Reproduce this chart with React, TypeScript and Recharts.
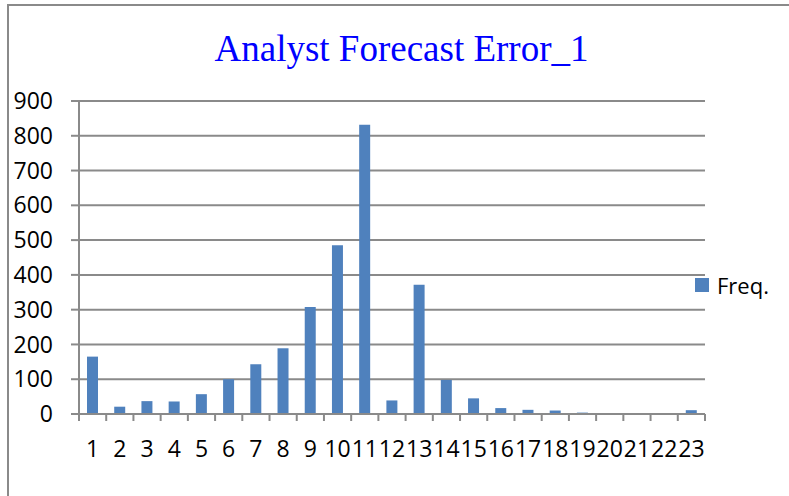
import { BarChart, Bar, XAxis, YAxis, CartesianGrid } from "recharts";

const bins = [
  "1", "2", "3", "4", "5", "6", "7", "8", "9", "10", "11", "12",
  "13", "14", "15", "16", "17", "18", "19", "20", "21", "22", "23",
];
const freq = [
  165, 21, 37, 36, 57, 100, 143, 189, 308, 485, 832, 39,
  372, 98, 45, 17, 12, 10, 4, 0, 1, 0, 11,
];
const yTicks = [0, 100, 200, 300, 400, 500, 600, 700, 800, 900];
const seriesName = "Freq.";

const data = bins.map((bin, i) => ({ bin, freq: freq[i] }));

const GRID = "#8a8a8a";
const BLUE = "#4f81bd";
const FONT = "'Open Sans', sans-serif";
const CAT_W = 626 / bins.length;

// x ticks sit on category boundaries, like Excel
const BinTick = (props: any) => {
  const { x, y, payload, index } = props;
  const last = index === bins.length - 1;
  return (
    <g>
      <line x1={x - CAT_W / 2} x2={x - CAT_W / 2} y1={y} y2={y + 7} stroke={GRID} strokeWidth={2} />
      {last && (
        <line x1={x + CAT_W / 2} x2={x + CAT_W / 2} y1={y} y2={y + 7} stroke={GRID} strokeWidth={2} />
      )}
      <text x={x} y={y + 43} textAnchor="middle" fill="#000" fontSize={23} fontFamily={FONT}>
        {payload.value}
      </text>
    </g>
  );
};

export default function App() {
  return (
    <div style={{ position: "absolute", left: 0, top: 0, width: 789, height: 496, background: "#fff" }}>
      <div
        style={{
          position: "absolute",
          left: 7,
          top: 4,
          width: 782,
          height: 492,
          borderTop: "2px solid #8a8a8a",
          borderLeft: "2px solid #8a8a8a",
        }}
      />
      <div
        style={{
          position: "absolute",
          left: 0,
          top: 30,
          width: 803,
          textAlign: "center",
          fontFamily: "'Liberation Serif', serif",
          fontSize: 37,
          lineHeight: "37px",
          color: "#0000ff",
        }}
      >
        Analyst Forecast Error_1
      </div>
      <div style={{ position: "absolute", left: 0, top: 0 }}>
        <BarChart
          width={789}
          height={496}
          data={data}
          margin={{ top: 101, right: 84, left: 0, bottom: 32 }}
        >
          <CartesianGrid vertical={false} stroke={GRID} strokeWidth={2} />
          <XAxis
            dataKey="bin"
            interval={0}
            height={50}
            tickSize={0}
            tickMargin={0}
            axisLine={{ stroke: GRID, strokeWidth: 2 }}
            tickLine={false}
            tick={<BinTick />}
          />
          <YAxis
            width={79}
            domain={[0, 900]}
            ticks={yTicks}
            interval={0}
            tickSize={8}
            tickMargin={18}
            axisLine={{ stroke: GRID, strokeWidth: 2 }}
            tickLine={{ stroke: GRID, strokeWidth: 2 }}
            tick={{ fill: "#000", fontSize: 23, fontFamily: FONT }}
          />
          <Bar dataKey="freq" name={seriesName} fill={BLUE} barSize={11} isAnimationActive={false} />
        </BarChart>
      </div>
      <div
        style={{
          position: "absolute",
          left: 695,
          top: 270,
          display: "flex",
          alignItems: "center",
          fontFamily: FONT,
          fontSize: 22,
        }}
      >
        <span style={{ width: 14, height: 14, background: BLUE, marginRight: 8 }} />
        <span>{seriesName}</span>
      </div>
    </div>
  );
}
